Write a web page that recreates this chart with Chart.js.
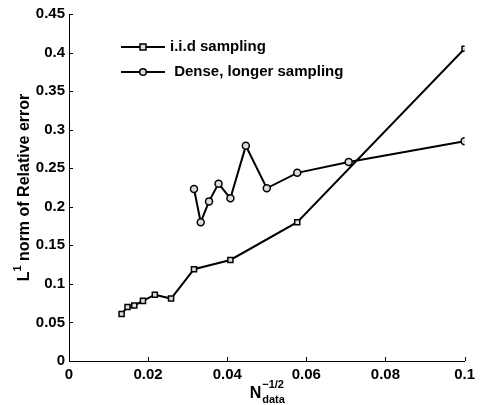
<!DOCTYPE html>
<html>
<head>
<meta charset="utf-8">
<script src="https://cdn.jsdelivr.net/npm/chart.js@4"></script>
<style>
  html, body { margin: 0; padding: 0; background: #fff; }
  #wrap { width: 480px; height: 405px; position: relative; }
</style>
</head>
<body>
<div id="wrap"><canvas id="c" width="480" height="405"></canvas></div>
<script>
// ---- data ----
const iidX   = [0.0133, 0.0148, 0.0165, 0.0187, 0.0217, 0.0258, 0.0316, 0.0408, 0.0577, 0.1];
const iidY   = [0.061, 0.070, 0.072, 0.078, 0.086, 0.081, 0.119, 0.131, 0.180, 0.405];
const denseX = [0.0316, 0.0333, 0.0354, 0.0378, 0.0408, 0.0447, 0.0500, 0.0577, 0.0707, 0.1];
const denseY = [0.223, 0.180, 0.207, 0.230, 0.211, 0.279, 0.224, 0.244, 0.258, 0.285];
const seriesNames = ['i.i.d sampling', ' Dense, longer sampling'];
const xTicks = [0, 0.02, 0.04, 0.06, 0.08, 0.1];
const yTicks = [0, 0.05, 0.1, 0.15, 0.2, 0.25, 0.3, 0.35, 0.4, 0.45];

const FONT = '"Liberation Sans", Arial, Helvetica, sans-serif';

function pts(xs, ys) { return xs.map((x, i) => ({x: x, y: ys[i]})); }
function fmt(v) { return String(Number(v.toFixed(3))); }

const overlay = {
  id: 'overlay',
  afterDraw(chart) {
    const ctx = chart.ctx;
    const xs = chart.scales.x, ys = chart.scales.y;
    const area = chart.chartArea;
    ctx.save();
    // inward tick marks
    ctx.strokeStyle = '#000';
    ctx.lineWidth = 1;
    ctx.beginPath();
    xTicks.forEach(v => {
      const px = Math.round(xs.getPixelForValue(v)) + 0.5;
      ctx.moveTo(px, area.bottom);
      ctx.lineTo(px, area.bottom - 4);
    });
    yTicks.forEach(v => {
      const py = Math.round(ys.getPixelForValue(v)) + 0.5;
      ctx.moveTo(area.left, py);
      ctx.lineTo(area.left + 4, py);
    });
    ctx.stroke();

    // legend
    const lx0 = 121, lx1 = 165, mx = 143;
    const rows = [47, 72];
    chart.data.datasets.forEach((ds, i) => {
      const y = rows[i];
      ctx.strokeStyle = '#000';
      ctx.lineWidth = 2;
      ctx.beginPath();
      ctx.moveTo(lx0, y); ctx.lineTo(lx1, y);
      ctx.stroke();
      ctx.lineWidth = 1.5;
      ctx.fillStyle = '#ddd';
      if (ds.pointStyle === 'rect') {
        ctx.fillRect(mx - 3, y - 3, 6, 6);
        ctx.strokeRect(mx - 3, y - 3, 6, 6);
      } else {
        ctx.beginPath();
        ctx.arc(mx, y, 3.3, 0, Math.PI * 2);
        ctx.fill(); ctx.stroke();
      }
      ctx.fillStyle = '#000';
      ctx.font = 'bold 15px ' + FONT;
      ctx.textBaseline = 'middle';
      ctx.textAlign = 'left';
      ctx.fillText(ds.label, 170, y);
    });

    // x axis title: N^{-1/2}_{data}
    ctx.fillStyle = '#000';
    ctx.textBaseline = 'alphabetic';
    ctx.textAlign = 'left';
    const cx = (area.left + area.right) / 2;
    ctx.font = 'bold 16px ' + FONT;
    const nW = ctx.measureText('N').width;
    ctx.font = 'bold 11px ' + FONT;
    const supW = ctx.measureText('\u22121/2').width;
    const subW = ctx.measureText('data').width;
    const total = nW + Math.max(supW, subW);
    const sx = cx - total / 2;
    const base = 398;
    ctx.font = 'bold 16px ' + FONT;
    ctx.fillText('N', sx, base);
    ctx.font = 'bold 11px ' + FONT;
    ctx.fillText('\u22121/2', sx + nW + 1, base - 10);
    ctx.fillText('data', sx + nW + 1, base + 5);

    // y axis title: L^1 norm of Relative error
    const cy = (area.top + area.bottom) / 2;
    ctx.save();
    ctx.translate(29, cy);
    ctx.rotate(-Math.PI / 2);
    ctx.font = 'bold 16px ' + FONT;
    const lW = ctx.measureText('L').width;
    const rest = ' norm of Relative error';
    const restW = ctx.measureText(rest).width;
    ctx.font = 'bold 11px ' + FONT;
    const oneW = ctx.measureText('1').width;
    const tot = lW + oneW + restW;
    let tx = -tot / 2;
    ctx.font = 'bold 16px ' + FONT;
    ctx.fillText('L', tx, 0);
    tx += lW;
    ctx.font = 'bold 11px ' + FONT;
    ctx.fillText('1', tx, -8);
    tx += oneW;
    ctx.font = 'bold 16px ' + FONT;
    ctx.fillText(rest, tx, 0);
    ctx.restore();

    ctx.restore();
  }
};

new Chart(document.getElementById('c'), {
  type: 'scatter',
  data: {
    datasets: [
      {
        label: seriesNames[0],
        data: pts(iidX, iidY),
        showLine: true,
        borderColor: '#000',
        borderWidth: 2,
        pointStyle: 'rect',
        pointRadius: 3.6,
        pointBorderWidth: 1.5,
        pointBackgroundColor: '#ddd',
        pointBorderColor: '#000',
        tension: 0
      },
      {
        label: seriesNames[1],
        data: pts(denseX, denseY),
        showLine: true,
        borderColor: '#000',
        borderWidth: 2,
        pointStyle: 'circle',
        pointRadius: 3.5,
        pointBorderWidth: 1.5,
        pointBackgroundColor: '#ddd',
        pointBorderColor: '#000',
        tension: 0
      }
    ]
  },
  options: {
    responsive: false,
    animation: false,
    devicePixelRatio: 1,
    layout: { padding: { top: 14, right: 10, left: 0, bottom: 0 } },
    plugins: { legend: { display: false }, tooltip: { enabled: false } },
    scales: {
      x: {
        type: 'linear',
        min: 0, max: 0.1,
        afterBuildTicks(scale) { scale.ticks = xTicks.map(v => ({value: v})); },
        afterFit(scale) { scale.height = 44; },
        grid: { display: false, drawTicks: false },
        border: { display: true, color: '#000', width: 1 },
        ticks: {
          color: '#000', padding: 5,
          font: { family: FONT, size: 15, weight: 'bold' },
          maxRotation: 0, autoSkip: false,
          callback: v => fmt(v)
        }
      },
      y: {
        type: 'linear',
        min: 0, max: 0.45,
        afterBuildTicks(scale) { scale.ticks = yTicks.map(v => ({value: v})); },
        afterFit(scale) { scale.width = 69; },
        grid: { display: false, drawTicks: false },
        border: { display: true, color: '#000', width: 1 },
        ticks: {
          color: '#000', padding: 4,
          font: { family: FONT, size: 15, weight: 'bold' },
          autoSkip: false,
          callback: v => fmt(v)
        }
      }
    }
  },
  plugins: [overlay]
});
</script>
</body>
</html>
